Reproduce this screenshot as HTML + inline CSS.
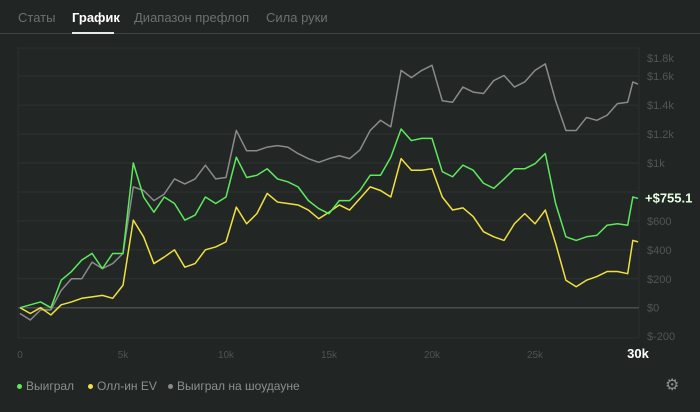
<!DOCTYPE html>
<html><head><meta charset="utf-8"><style>
body{margin:0;width:700px;height:412px;background:#212625;font-family:"Liberation Sans",sans-serif;overflow:hidden;position:relative}
.tab{position:absolute;top:10px;font-size:13px;color:#6b716f}
.tab.active{color:#fff;font-weight:bold}
.leg{position:absolute;top:379px;font-size:12px;color:#8a908e}
.dot{display:inline-block;width:5px;height:5px;border-radius:50%;margin-right:4px;vertical-align:middle}
</style></head><body>
<div class="tab" style="left:18px">Статы</div>
<div class="tab active" style="left:72px">График</div>
<div class="tab" style="left:134px">Диапазон префлоп</div>
<div class="tab" style="left:266px">Сила руки</div>
<div style="position:absolute;left:0;top:33px;width:700px;height:1px;background:#3d4341"></div>
<div style="position:absolute;left:72px;top:32px;width:42px;height:2px;background:#e8e8e8"></div>
<svg id="chart" width="700" height="412" style="position:absolute;left:0;top:0"></svg>
<div class="leg" style="left:17px"><span class="dot" style="background:#5ee85e"></span>Выиграл</div>
<div class="leg" style="left:88px"><span class="dot" style="background:#f0e040"></span>Олл-ин EV</div>
<div class="leg" style="left:168px"><span class="dot" style="background:#8a8a8a"></span>Выиграл на шоудауне</div>
<div style="position:absolute;left:665px;top:375px;font-size:16px;color:#8a908e">⚙</div>
<script>
const hands=[0,500,1000,1500,2000,2500,3000,3500,4000,4500,5000,5500,6000,6500,7000,7500,8000,8500,9000,9500,10000,10500,11000,11500,12000,12500,13000,13500,14000,14500,15000,15500,16000,16500,17000,17500,18000,18500,19000,19500,20000,20500,21000,21500,22000,22500,23000,23500,24000,24500,25000,25500,26000,26500,27000,27500,28000,28500,29000,29500,29750,30000];
const won=[0,20,40,0,190,250,330,375,270,375,375,1000,765,660,765,720,605,640,765,720,765,1040,900,915,960,890,870,835,740,685,650,740,740,810,915,915,1040,1235,1155,1170,1170,940,905,985,950,860,825,890,960,960,995,1065,720,490,465,490,500,570,580,570,765,755.1];
const allinEv=[0,-40,0,-50,20,40,65,75,85,65,155,605,490,305,350,400,280,305,400,420,455,695,580,650,790,730,720,710,675,615,660,710,675,755,835,810,765,1030,950,950,960,765,675,690,630,525,490,465,580,650,580,675,445,190,145,190,215,250,250,235,465,455];
const showdown=[-40,-85,-15,-15,120,200,200,315,270,305,375,835,810,740,785,890,855,890,985,890,900,1225,1085,1085,1110,1120,1110,1065,1030,1005,1030,1050,1030,1090,1225,1295,1250,1640,1590,1640,1675,1430,1420,1525,1490,1480,1570,1605,1525,1560,1640,1685,1430,1225,1225,1315,1295,1330,1410,1420,1560,1545];
const yTicks=[-200,0,200,400,600,800,1000,1200,1400,1600,1800];
const yTickLabels=["$-200","$0","$200","$400","$600","$800","$1k","$1.2k","$1.4k","$1.6k","$1.8k"];
const xTicks=[0,5000,10000,15000,20000,25000,30000];
const xTickLabels=["0","5k","10k","15k","20k","25k","30k"];
const NS="http://www.w3.org/2000/svg";
const svg=document.getElementById('chart');
const X=h=>20+h/30000*618;
const Y=v=>307.7-v*0.1447;
function mk(t,a){const e=document.createElementNS(NS,t);for(const k in a)e.setAttribute(k,a[k]);svg.appendChild(e);return e;}
const panel=mk('rect',{x:18,y:48,width:621,height:290,fill:'#222726',stroke:'#2a302f'});


yTicks.forEach((v,i)=>{
  if(v>-200&&v<1800){const g=mk('line',{x1:18,x2:639,y1:Y(v),y2:Y(v),stroke:v===0?'#474d4b':'#2d3332','stroke-width':v===0?1.5:1});
  
  }
  let ty=Y(v)+4; if(v===1800) ty=62; if(v===-200) ty=340;
  if(v===800) return;
  const t=mk('text',{x:647,y:ty,fill:'#505654','font-size':11});
  t.textContent=yTickLabels[i];
  
  
});
xTicks.forEach((h,i)=>{
  const last=i===xTicks.length-1;
  const t=mk('text',{x:X(h),y:358,'text-anchor':'middle',fill:last?'#fff':'#4d5351','font-size':last?13:10,'font-weight':last?'bold':'normal'});
  t.textContent=xTickLabels[i];
  
  
});
function line(data,color,name){
  const p=mk('polyline',{points:data.map((v,i)=>X(hands[i])+','+Y(v)).join(' '),fill:'none',stroke:color,'stroke-width':1.5,'stroke-linejoin':'round'});
  
  
}
line(showdown,'#8a8a8a','showdown-line');
line(allinEv,'#f0e040','allin-ev-line');
line(won,'#5ee85e','won-line');
const lab=mk('text',{x:645,y:Y(won[won.length-1])+4,fill:'#e8ffe0','font-size':13,'font-weight':'bold'});
lab.textContent='+$'+won[won.length-1].toFixed(1);


</script>
</body></html>
